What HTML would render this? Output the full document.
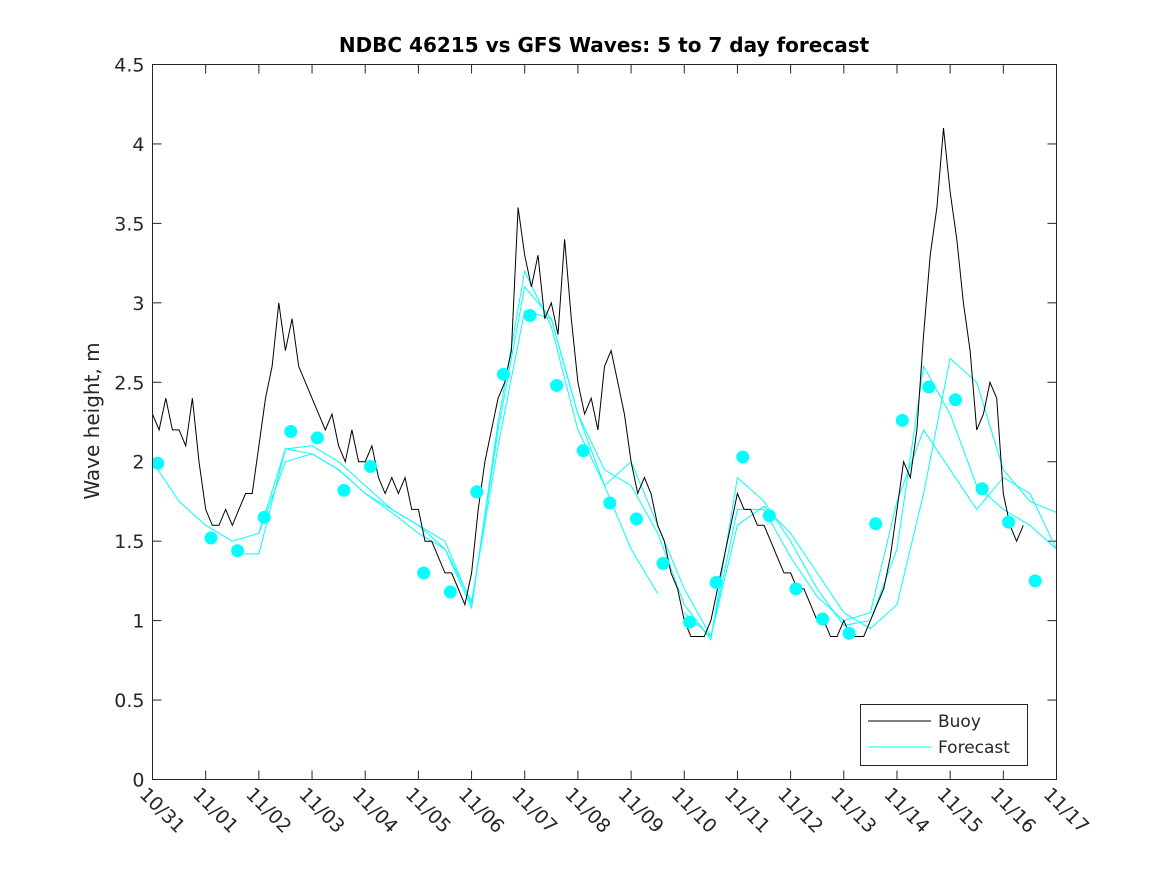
<!DOCTYPE html>
<html><head><meta charset="utf-8"><style>
body{margin:0;background:#fff;}
svg{display:block;font-family:"DejaVu Sans","Liberation Sans",sans-serif;}
</style></head><body>
<svg id="chart" width="1167" height="875">
<defs><clipPath id="plotclip"><rect x="152.5" y="64.5" width="904" height="715"/></clipPath></defs>
<rect x="0" y="0" width="1167" height="875" fill="#fff"/>
<text x="604" y="52" text-anchor="middle" font-size="20" font-weight="bold">NDBC 46215 vs GFS Waves: 5 to 7 day forecast</text>
<text transform="translate(99,421) rotate(-90)" text-anchor="middle" font-size="20" fill="#262626">Wave height, m</text>
<g id="axes"></g>
<g id="series" clip-path="url(#plotclip)"></g>
<rect x="152.5" y="64.5" width="904" height="715" fill="none" stroke="#262626" stroke-width="1"/>
<g>
<rect x="860.5" y="704.5" width="167" height="61" fill="#fff" stroke="#262626"/>
<line x1="868" y1="721" x2="931" y2="721" stroke="#000"/>
<text x="938" y="727" font-size="17" fill="#262626">Buoy</text>
<line x1="868" y1="747" x2="931" y2="747" stroke="#00ffff"/>
<text x="938" y="753" font-size="17" fill="#262626">Forecast</text>
</g>
</svg>
<script>
const xTickLabels=["10/31","11/01","11/02","11/03","11/04","11/05","11/06","11/07","11/08","11/09","11/10","11/11","11/12","11/13","11/14","11/15","11/16","11/17"];
const yTicks=[0,0.5,1,1.5,2,2.5,3,3.5,4,4.5];
const buoyStep=0.125;
const buoy=[2.3,2.2,2.4,2.2,2.2,2.1,2.4,2.0,
1.7,1.6,1.6,1.7,1.6,1.7,1.8,1.8,
2.1,2.4,2.6,3.0,2.7,2.9,2.6,2.5,
2.4,2.3,2.2,2.3,2.1,2.0,2.2,2.0,
2.0,2.1,1.9,1.8,1.9,1.8,1.9,1.7,
1.7,1.5,1.5,1.4,1.3,1.3,1.2,1.1,
1.3,1.7,2.0,2.2,2.4,2.5,2.7,3.6,
3.3,3.1,3.3,2.9,3.0,2.8,3.4,2.9,
2.5,2.3,2.4,2.2,2.6,2.7,2.5,2.3,
2.0,1.8,1.9,1.8,1.6,1.5,1.3,1.2,
1.0,0.9,0.9,0.9,1.0,1.2,1.4,1.6,
1.8,1.7,1.7,1.6,1.6,1.5,1.4,1.3,
1.3,1.2,1.2,1.1,1.0,1.0,0.9,0.9,
1.0,0.9,0.9,0.9,1.0,1.1,1.2,1.4,
1.7,2.0,1.9,2.2,2.8,3.3,3.6,4.1,
3.7,3.4,3.0,2.7,2.2,2.3,2.5,2.4,
1.8,1.6,1.5,1.6];
const dotDays=[0.1,1.1,1.6,2.1,2.6,3.1,3.6,4.1,5.1,5.6,6.1,6.6,7.1,7.6,8.1,8.6,9.1,9.6,10.1,10.6,11.1,11.6,12.1,12.6,13.1,13.6,14.1,14.6,15.1,15.6,16.1,16.6];
const dotValues=[1.99,1.52,1.44,1.65,2.19,2.15,1.82,1.97,1.30,1.18,1.81,2.55,2.92,2.48,2.07,1.74,1.64,1.36,0.99,1.24,2.03,1.66,1.20,1.01,0.92,1.61,2.26,2.47,2.39,1.83,1.62,1.25];
const fcStarts=[0,1.5,2.0,10.0];
const fc1=[2.0,1.75,1.6,1.5,1.55,2.0,2.05,1.95,1.8,1.68,1.55,1.45,1.12,2.1,2.95,2.9,2.3,1.85,1.45,1.17];
const fc2=[1.42,1.42,2.08,2.1,2.0,1.85,1.7,1.6,1.5,1.1,2.2,3.1,2.9,2.3,1.95,1.85,1.55,1.1,0.88,1.9,1.75,1.5,1.2,0.97,1.0,1.45,2.6,2.3,1.85,1.7,1.6,1.45];
const fc3=[1.55,2.08,2.05,1.95,1.8,1.7,1.6,1.45,1.08,2.25,3.2,2.85,2.2,1.85,2.0,1.6,1.2,0.9,1.6,1.72,1.55,1.3,1.05,0.95,1.1,1.8,2.65,2.5,1.95,1.75,1.68];
const fc4=[1.05,0.9,1.7,1.7,1.4,1.15,1.0,1.05,1.75,2.2,1.95,1.7,1.9,1.8,1.45];
const fcLines=[fc1,fc2,fc3,fc4];
const fcStep=0.5;
const NS="http://www.w3.org/2000/svg";
const X0=152.5,X1=1056.5,Y0=779.5,Y1=64.5;
const xs=d=>X0+(X1-X0)*d/17;
const ys=v=>Y0-(Y0-Y1)*v/4.5;
const axes=document.getElementById('axes'),ser=document.getElementById('series');
function mk(t,a,p){const e=document.createElementNS(NS,t);for(const k in a)e.setAttribute(k,a[k]);p.appendChild(e);return e;}
yTicks.forEach(v=>{
 const y=ys(v);
 const l=mk('line',{x1:X0,x2:X0+9,y1:y,y2:y,stroke:'#262626'},axes);
 
 
 const l2=mk('line',{x1:X1,x2:X1-9,y1:y,y2:y,stroke:'#262626'},axes);
 
 
 const t=mk('text',{x:X0-8,y:y+7,'text-anchor':'end','font-size':'19',fill:'#262626'},axes);
 t.textContent=String(v);
 
 
});
xTickLabels.forEach((s,i)=>{
 const x=xs(i);
 const l=mk('line',{x1:x,x2:x,y1:Y0,y2:Y0-9,stroke:'#262626'},axes);
 
 
 const l2=mk('line',{x1:x,x2:x,y1:Y1,y2:Y1+9,stroke:'#262626'},axes);
 
 
 const t=mk('text',{transform:`translate(${x-14},${Y0+16}) rotate(45)`,'font-size':'19',fill:'#262626'},axes);
 t.textContent=s;
 
 
});
fcLines.forEach((arr,k)=>{
 const pts=arr.map((v,i)=>xs(fcStarts[k]+i*fcStep).toFixed(1)+','+ys(v).toFixed(1)).join(' ');
 const p=mk('polyline',{points:pts,fill:'none',stroke:'#00ffff','stroke-width':'1'},ser);
 
 
});
{
 let d='';
 buoy.forEach((v,i)=>{const x=xs(i*buoyStep),y=ys(v);d+=(i?'L':'M')+x.toFixed(1)+','+y.toFixed(1)+' ';});
 const p=mk('path',{d:d,fill:'none',stroke:'#000','stroke-width':'1'},ser);
 
 
}
dotDays.forEach((d,i)=>{
 const c=mk('circle',{cx:xs(d),cy:ys(dotValues[i]),r:6.5,fill:'#00ffff'},ser);
 
 
});
</script>
</body></html>
